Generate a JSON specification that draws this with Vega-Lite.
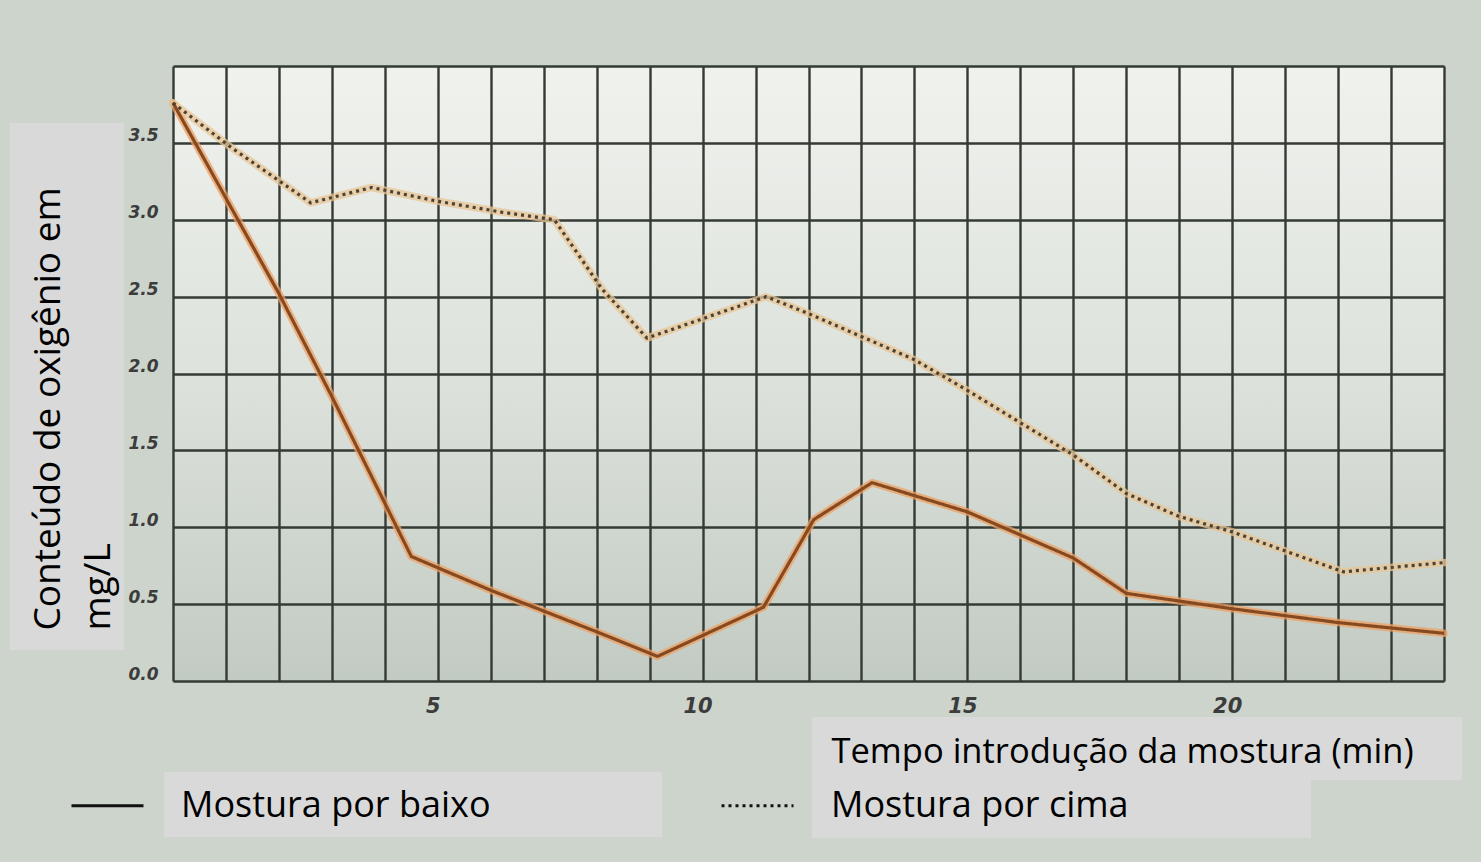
{
  "$schema": "https://vega.github.io/schema/vega-lite/v6.json",
  "width": 1271,
  "height": 615,
  "autosize": {"type": "none"},
  "padding": {"left": 173, "top": 66, "right": 37, "bottom": 181},
  "background": "#ccd4cc",
  "config": {
    "view": {
      "stroke": null,
      "fill": {
        "gradient": "linear", "x1": 0, "y1": 0, "x2": 0, "y2": 1,
        "stops": [
          {"offset": 0, "color": "#f0f2ee"},
          {"offset": 0.5, "color": "#dde2dc"},
          {"offset": 1, "color": "#c2cbc3"}
        ]
      }
    }
  },
  "datasets": {
    "oxigenio": [
      {"serie": "Mostura por baixo", "t": 0, "o2": 3.76},
      {"serie": "Mostura por baixo", "t": 2, "o2": 2.52},
      {"serie": "Mostura por baixo", "t": 3, "o2": 1.85},
      {"serie": "Mostura por baixo", "t": 4.5, "o2": 0.81},
      {"serie": "Mostura por baixo", "t": 6, "o2": 0.59},
      {"serie": "Mostura por baixo", "t": 8, "o2": 0.32},
      {"serie": "Mostura por baixo", "t": 9.15, "o2": 0.16},
      {"serie": "Mostura por baixo", "t": 11.15, "o2": 0.48},
      {"serie": "Mostura por baixo", "t": 12.1, "o2": 1.05},
      {"serie": "Mostura por baixo", "t": 13.2, "o2": 1.29},
      {"serie": "Mostura por baixo", "t": 15, "o2": 1.1},
      {"serie": "Mostura por baixo", "t": 17, "o2": 0.8},
      {"serie": "Mostura por baixo", "t": 18, "o2": 0.57},
      {"serie": "Mostura por baixo", "t": 20, "o2": 0.47},
      {"serie": "Mostura por baixo", "t": 22, "o2": 0.38},
      {"serie": "Mostura por baixo", "t": 24, "o2": 0.31},
      {"serie": "Mostura por cima", "t": 0, "o2": 3.76},
      {"serie": "Mostura por cima", "t": 1.1, "o2": 3.47},
      {"serie": "Mostura por cima", "t": 2.6, "o2": 3.11},
      {"serie": "Mostura por cima", "t": 3.75, "o2": 3.21},
      {"serie": "Mostura por cima", "t": 5, "o2": 3.12},
      {"serie": "Mostura por cima", "t": 6.2, "o2": 3.05},
      {"serie": "Mostura por cima", "t": 7.2, "o2": 3.0},
      {"serie": "Mostura por cima", "t": 8.1, "o2": 2.55},
      {"serie": "Mostura por cima", "t": 8.95, "o2": 2.23},
      {"serie": "Mostura por cima", "t": 11.2, "o2": 2.5},
      {"serie": "Mostura por cima", "t": 12, "o2": 2.39},
      {"serie": "Mostura por cima", "t": 14, "o2": 2.09},
      {"serie": "Mostura por cima", "t": 15, "o2": 1.89},
      {"serie": "Mostura por cima", "t": 16, "o2": 1.68},
      {"serie": "Mostura por cima", "t": 17, "o2": 1.47},
      {"serie": "Mostura por cima", "t": 18, "o2": 1.22},
      {"serie": "Mostura por cima", "t": 19, "o2": 1.07},
      {"serie": "Mostura por cima", "t": 20, "o2": 0.97},
      {"serie": "Mostura por cima", "t": 22.1, "o2": 0.71},
      {"serie": "Mostura por cima", "t": 24, "o2": 0.77}
    ]
  },
  "resolve": {"axis": {"x": "independent", "y": "independent"}},
  "layer": [
    {
      "data": {"values": [{}]},
      "mark": {"type": "rect", "fill": "#d9d9d9"},
      "encoding": {
        "x": {"datum": -3.078, "type": "quantitative", "axis": null},
        "x2": {"datum": -0.925},
        "y": {
          "datum": 3.629, "type": "quantitative",
          "axis": {
            "orient": "left",
            "title": ["Conteúdo de oxigênio em", "mg/L"],
            "titleFont": "Open Sans",
            "titleFontSize": 37,
            "titleFontWeight": "normal",
            "titleColor": "#000000",
            "titleAngle": 270,
            "titleAlign": "left",
            "titleBaseline": "top",
            "titleLineHeight": 50,
            "titleX": -143,
            "titleY": 564,
            "grid": false, "labels": false, "ticks": false, "domain": false,
            "zindex": 1
          }
        },
        "y2": {"datum": 0.2016}
      }
    },
    {
      "data": {"values": [{}]},
      "mark": {"type": "rect", "fill": "#d9d9d9"},
      "encoding": {
        "x": {
          "datum": 12.066, "type": "quantitative",
          "axis": {
            "orient": "bottom",
            "title": "Tempo introdução da mostura (min)",
            "titleFont": "Open Sans",
            "titleFontSize": 34.5,
            "titleFontWeight": "normal",
            "titleColor": "#000000",
            "titleAlign": "left",
            "titleBaseline": "alphabetic",
            "titleX": 658,
            "titleY": 81,
            "grid": false, "labels": false, "ticks": false, "domain": false,
            "zindex": 1
          }
        },
        "x2": {"datum": 24.34},
        "y": {"datum": -0.234, "type": "quantitative", "axis": null},
        "y2": {"datum": -0.644}
      }
    },
    {
      "data": {"values": [{}]},
      "mark": {"type": "rect", "fill": "#d9d9d9"},
      "encoding": {
        "x": {"datum": -0.17, "type": "quantitative", "axis": null},
        "x2": {"datum": 9.234},
        "y": {"datum": -0.592, "type": "quantitative", "axis": null},
        "y2": {"datum": -1.015}
      }
    },
    {
      "data": {"values": [{}]},
      "mark": {"type": "rect", "fill": "#d9d9d9"},
      "encoding": {
        "x": {"datum": 12.066, "type": "quantitative", "axis": null},
        "x2": {"datum": 21.489},
        "y": {"datum": -0.644, "type": "quantitative", "axis": null},
        "y2": {"datum": -1.021}
      }
    },
    {
      "data": {"name": "oxigenio"},
      "mark": {"type": "line", "strokeWidth": 7.5, "opacity": 0.75, "strokeJoin": "round", "strokeCap": "round"},
      "encoding": {
        "x": {
          "field": "t", "type": "quantitative",
          "scale": {"domain": [0, 24], "nice": false, "zero": false},
          "axis": {
            "orient": "bottom",
            "title": null,
            "values": [0,1,2,3,4,5,6,7,8,9,10,11,12,13,14,15,16,17,18,19,20,21,22,23,24],
            "labelExpr": "datum.value % 5 == 0 && datum.value > 0 ? datum.value : ''",
            "labelFont": "DejaVu Sans",
            "labelFontStyle": "italic",
            "labelFontWeight": "bold",
            "labelFontSize": 21,
            "labelColor": "#3c3c3c",
            "labelPadding": 14,
            "labelOffset": -5,
            "ticks": false,
            "domain": false,
            "grid": true,
            "gridColor": "#343a34",
            "gridWidth": 2.4,
            "gridOpacity": 1,
            "zindex": 0
          }
        },
        "y": {
          "field": "o2", "type": "quantitative",
          "scale": {"domain": [0, 4], "nice": false, "zero": false},
          "axis": {
            "orient": "left",
            "title": null,
            "values": [0, 0.5, 1, 1.5, 2, 2.5, 3, 3.5, 4],
            "labelExpr": "datum.value >= 4 ? '' : format(datum.value, '.1f')",
            "labelFont": "DejaVu Sans",
            "labelFontStyle": "italic",
            "labelFontWeight": "bold",
            "labelFontSize": 17,
            "labelColor": "#3c3c3c",
            "labelPadding": 15,
            "labelOffset": -7,
            "ticks": false,
            "domain": false,
            "grid": true,
            "gridColor": "#343a34",
            "gridWidth": 2.4,
            "gridOpacity": 1,
            "zindex": 0
          }
        },
        "stroke": {
          "field": "serie", "type": "nominal",
          "scale": {"domain": ["Mostura por cima", "Mostura por baixo"], "range": ["#e8c595", "#ee9f62"]},
          "legend": null
        }
      }
    },
    {
      "data": {"name": "oxigenio"},
      "mark": {"type": "line", "strokeWidth": 3.2, "strokeJoin": "round"},
      "encoding": {
        "x": {"field": "t", "type": "quantitative", "axis": null},
        "y": {"field": "o2", "type": "quantitative", "axis": null},
        "color": {
          "field": "serie", "type": "nominal",
          "scale": {"domain": ["Mostura por cima", "Mostura por baixo"], "range": ["#4b4233", "#874a20"]},
          "legend": null
        },
        "strokeDash": {
          "field": "serie", "type": "nominal",
          "scale": {"domain": ["Mostura por baixo", "Mostura por cima"], "range": [[1, 0], [3, 4]]},
          "legend": {
            "title": null,
            "orient": "none",
            "legendX": -103,
            "legendY": 702,
            "direction": "horizontal",
            "columns": 2,
            "columnPadding": 224,
            "padding": 0,
            "symbolType": "stroke",
            "symbolSize": 5184,
            "symbolStrokeWidth": 3,
            "symbolStrokeColor": "#111111",
            "labelFont": "Open Sans",
            "labelFontSize": 36,
            "labelColor": "#000000",
            "labelOffset": 36,
            "labelLimit": 0,
            "zindex": 1,
            "encode": {"symbols": {"update": {"stroke": {"value": "#111111"}}}}
          }
        }
      }
    }
  ]
}
